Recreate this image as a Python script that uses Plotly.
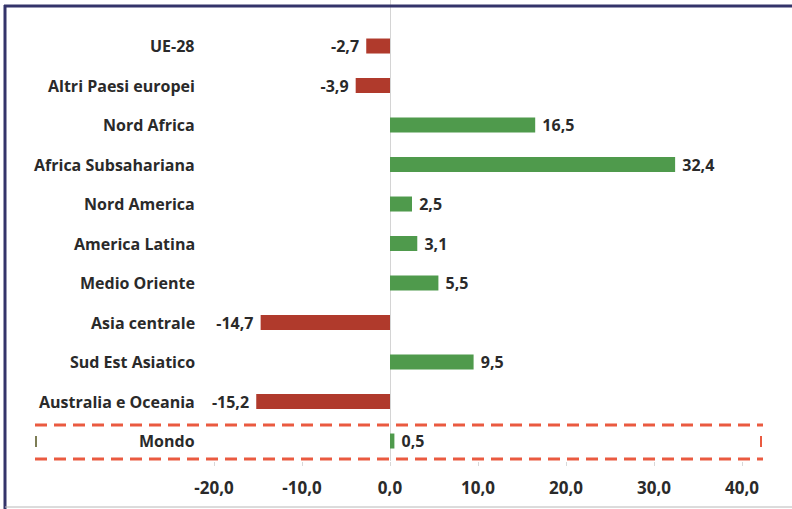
import plotly.graph_objects as go

categories = ["UE-28", "Altri Paesi europei", "Nord Africa", "Africa Subsahariana",
              "Nord America", "America Latina", "Medio Oriente", "Asia centrale",
              "Sud Est Asiatico", "Australia e Oceania", "Mondo"]
values = [-2.7, -3.9, 16.5, 32.4, 2.5, 3.1, 5.5, -14.7, 9.5, -15.2, 0.5]
tick_vals = [-20, -10, 0, 10, 20, 30, 40]
tick_text = ["-20,0", "-10,0", "0,0", "10,0", "20,0", "30,0", "40,0"]

RED = "#b03a2c"
GREEN = "#4f9a4c"
TXT = "#2a2a2a"
FONT = "Open Sans"
DASH = "#ea5a40"

W, H = 792, 509
PLOT_H = 461  # plot area height in px (top margin 0)

def fmt(v):
    s = f"{v:.1f}".replace(".", ",")
    return ("\u00a0" + s) if v >= 0 else (s + "\u00a0")

colors = [GREEN if v >= 0 else RED for v in values]

fig = go.Figure()
fig.add_trace(go.Bar(
    y=categories, x=values, orientation="h",
    marker=dict(color=colors, line=dict(width=0)),
    text=[fmt(v) for v in values], textposition="outside",
    constraintext="none",
    textfont=dict(family=FONT, size=16, color=TXT, weight="bold"),
    cliponaxis=False, hoverinfo="skip",
))

# category labels, right-aligned at a fixed column
for c in categories:
    fig.add_annotation(x=-21.9, y=c, xref="x", yref="y", text=c, showarrow=False,
                       xanchor="right", yanchor="middle",
                       font=dict(family=FONT, size=16, color=TXT, weight="bold"))

def px_x(p):
    return p / W

def px_y(p):
    return (PLOT_H - p) / PLOT_H

shapes = []
# dashed box around Mondo: dashed horizontal edges, short vertical marks
for yy in (425, 459):
    shapes.append(dict(type="line", xref="paper", yref="paper",
                       x0=px_x(35), x1=px_x(763), y0=px_y(yy), y1=px_y(yy),
                       line=dict(color=DASH, width=3, dash="12px,7px"), layer="above"))
shapes.append(dict(type="line", xref="paper", yref="paper",
                   x0=px_x(36), x1=px_x(36), y0=px_y(436), y1=px_y(447),
                   line=dict(color="#7d7d55", width=2), layer="above"))
shapes.append(dict(type="line", xref="paper", yref="paper",
                   x0=px_x(761), x1=px_x(761), y0=px_y(436), y1=px_y(447),
                   line=dict(color=DASH, width=2), layer="above"))
# outer frame
shapes.append(dict(type="line", xref="paper", yref="paper",
                   x0=px_x(4), x1=px_x(792), y0=px_y(6), y1=px_y(6),
                   line=dict(color="#34346a", width=3)))
shapes.append(dict(type="line", xref="paper", yref="paper",
                   x0=px_x(5), x1=px_x(5), y0=px_y(5), y1=px_y(509),
                   line=dict(color="#34346a", width=3)))
shapes.append(dict(type="line", xref="paper", yref="paper",
                   x0=px_x(5), x1=px_x(792), y0=px_y(507), y1=px_y(507),
                   line=dict(color="#b8b8b8", width=1)))

x0_px, scale = 390.0, 8.8
fig.update_layout(
    width=W, height=H,
    margin=dict(l=0, r=0, t=0, b=H - PLOT_H, pad=0),
    paper_bgcolor="white", plot_bgcolor="white",
    showlegend=False, bargap=0.62,
    shapes=shapes,
    xaxis=dict(range=[-x0_px / scale, (W - x0_px) / scale],
               tickvals=tick_vals, ticktext=tick_text,
               showgrid=False, showline=False,
               zeroline=True, zerolinecolor="#d4d4d4", zerolinewidth=1,
               ticks="outside", ticklen=4, tickcolor="#d8d8d8",
               ticklabelstandoff=8,
               tickfont=dict(family=FONT, size=17, color=TXT, weight="bold"),
               fixedrange=True),
    yaxis=dict(categoryorder="array", categoryarray=categories,
               range=[10.506, -1.165], showticklabels=False,
               showgrid=False, zeroline=False, showline=False, ticks="",
               fixedrange=True),
)

fig.write_html("out.html", config={"displayModeBar": False},
               post_script="document.body.style.margin='0';document.body.style.overflow='hidden';")
